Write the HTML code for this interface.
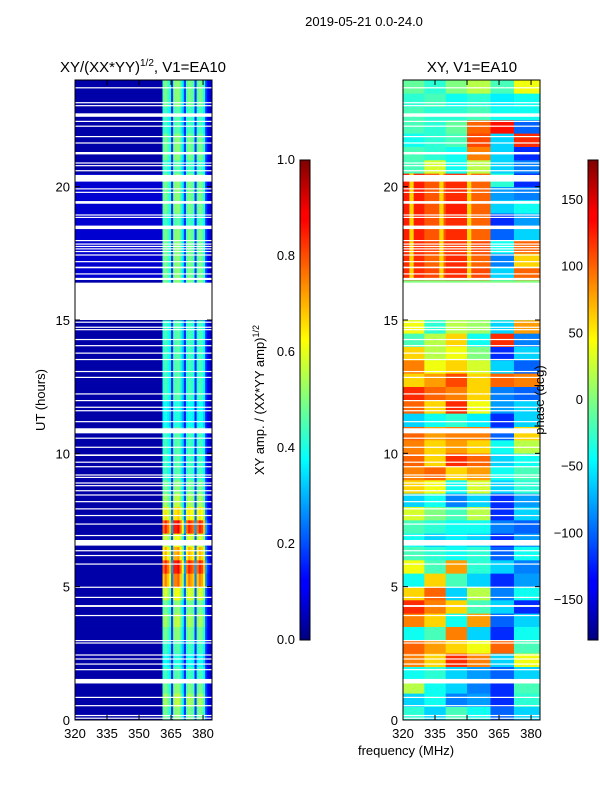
<!DOCTYPE html>
<html><head><meta charset="utf-8"><style>
html,body{margin:0;padding:0;background:#fff;}
svg{display:block;font-family:"Liberation Sans","DejaVu Sans",sans-serif;}
</style></head><body>
<svg id="fig" width="600" height="800" viewBox="0 0 600 800" xmlns="http://www.w3.org/2000/svg">
<defs>
<linearGradient id="jet" x1="0" y1="1" x2="0" y2="0">
<stop offset="0" stop-color="#00007f"/><stop offset="0.11" stop-color="#0000ff"/><stop offset="0.125" stop-color="#0000ff"/><stop offset="0.34" stop-color="#00dcff"/><stop offset="0.375" stop-color="#00ffff"/><stop offset="0.5" stop-color="#7fff7f"/><stop offset="0.625" stop-color="#ffff00"/><stop offset="0.66" stop-color="#ffdc00"/><stop offset="0.875" stop-color="#ff0000"/><stop offset="0.89" stop-color="#ff0000"/><stop offset="1" stop-color="#7f0000"/>
</linearGradient>
</defs>
<text x="364" y="26" font-size="13" text-anchor="middle">2019-05-21 0.0-24.0</text>
<text x="143" y="72" font-size="15" text-anchor="middle">XY/(XX*YY)<tspan font-size="10" dy="-6">1/2</tspan><tspan dy="6">, V1=EA10</tspan></text>
<text x="472" y="72" font-size="15" text-anchor="middle">XY, V1=EA10</text>
<g id="ampPanel"></g>
<g id="phasePanel"></g>
<g id="axes"></g>
<text transform="translate(45,400) rotate(-90)" font-size="13" text-anchor="middle">UT (hours)</text>
<text x="406" y="755" font-size="13" text-anchor="middle">frequency (MHz)</text>
<rect x="300" y="160" width="10" height="480" fill="url(#jet)" stroke="#000" stroke-width="1"/>
<rect x="588" y="160" width="10" height="480" fill="url(#jet)" stroke="#000" stroke-width="1"/>
<text transform="translate(264,400) rotate(-90)" font-size="13" text-anchor="middle">XY amp. / (XX*YY amp)<tspan font-size="9" dy="-5">1/2</tspan></text>
<text transform="translate(544,400) rotate(-90)" font-size="13" text-anchor="middle">phase (deg)</text>
</svg>
<script>
const ampRow = [0.5,0.55,0.5,0.45,0.4,0.45,0.5,0.55,0.5,0.6,0.75,0.85,0.7,0.6,0.85,0.65,0.55,0.5,0.45,0.45,0.45,0.45,0.4,0.4,0.45,0.45,0.45,0.45,0.45,0.45,0,0,0.5,0.5,0.5,0.5,0.5,0.45,0.5,0.5,0.5,0.45,0.5,0.5,0.45,0.45,0.5,0.5];
const bandFreqs = [361,362,363,364,365,366,367,368,369,370,371,372,373,374,375,376,377,378,379,380,381,382,383];
const bandWeight = [0.9,1,0.9,0.8,0.3,1,1,1.05,0.9,0.7,0.3,0.9,1,0.95,0.9,0.3,0.9,1,0.95,0.8,0.3,0.15,0.1];
const ampBase = 0.04;
const phaseGroups = [320,330,340,350,361,372,384];
const phaseGrid = [
[-30,-60,-20,-40,-100,-60],[-60,-40,-90,-80,-120,-30],[20,-40,-60,-90,-120,-20],[-40,-30,-60,-80,-100,-60],
[90,60,120,90,-60,40],[100,80,60,40,100,-20],[-40,-20,90,-60,-120,-40],[90,60,-40,80,-100,-60],
[120,90,60,-20,-60,-120],[60,100,-60,20,-90,-40],[-40,60,-20,-60,-120,-80],[40,-20,80,-30,-60,-90],
[-20,-30,-40,-30,-100,-40],[-40,-60,-50,-60,-120,-80],[-20,-30,-40,-40,-90,-100],[30,0,-20,20,-120,-60],
[-60,-40,-90,-60,-120,-80],[60,40,-40,30,-60,-30],[90,100,60,80,-40,-20],[100,60,120,100,-60,-40],
[90,60,80,60,-40,20],[100,80,90,90,-100,60],[-60,-40,-30,-50,-120,-60],[100,60,120,40,-80,-60],
[120,100,90,60,-90,-100],[60,80,110,60,100,90],[90,40,60,30,-60,-100],[60,20,40,0,-120,-60],
[-20,20,60,-40,120,-90],[40,-30,20,10,-60,80],[0,0,0,0,0,0],[0,0,0,0,0,0],
[0,0,0,0,0,0],[120,110,120,110,-60,100],[120,100,120,100,-90,60],[120,110,115,110,-40,100],
[125,105,120,100,-100,-60],[125,105,120,100,-120,-80],[125,105,125,100,-60,-40],[125,105,120,100,-80,-90],
[125,105,120,100,-30,-120],[-20,30,-40,20,-60,-90],[-20,-30,-40,90,-60,-120],[-40,-30,-20,110,-60,120],
[-20,-30,-10,100,130,-100],[-20,-30,-30,-20,-40,-40],[-30,-20,-40,-30,-50,-40],[-10,-30,0,20,-20,40]];
const stripeFreqs = [324,338,351];
const stripeRange = [16.5,20.5];
const stripePhase = 60;
const flags = [[23.73,23.69],[23.17,23.13],[23.06,23.02],[22.75,22.62],[22.47,22.43],[22.29,22.25],[21.9,21.86],[21.66,21.62],[21.3,21.21],[20.91,20.87],[20.81,20.77],[20.62,20.58],[20.44,20.19],[19.94,19.9],[19.81,19.77],[19.46,19.36],[18.96,18.92],[18.87,18.83],[18.54,18.41],[18.0,17.96],[17.87,17.83],[17.78,17.74],[17.69,17.65],[17.59,17.55],[17.46,17.42],[17.21,17.17],[17.0,16.94],[16.75,16.71],[16.58,16.5],[16.4,15.0],[14.94,14.9],[14.75,14.71],[14.66,14.62],[14.29,14.25],[14.06,14.02],[13.78,13.74],[13.54,13.5],[13.09,13.05],[12.87,12.83],[12.25,12.21],[12.0,11.96],[11.75,11.71],[11.62,11.58],[11.21,11.17],[10.94,10.75],[10.59,10.55],[10.25,10.21],[9.96,9.9],[9.69,9.65],[9.52,9.48],[9.21,9.17],[9.12,9.08],[8.91,8.87],[8.81,8.77],[8.62,8.58],[8.46,8.42],[8.21,8.17],[7.94,7.9],[7.69,7.65],[7.37,7.33],[6.94,6.9],[6.75,6.54],[6.37,6.33],[6.19,6.15],[5.87,5.83],[5.0,4.96],[4.62,4.58],[4.31,4.24],[3.94,3.9],[3.0,2.96],[2.91,2.87],[2.46,2.42],[2.31,2.27],[2.12,2.08],[1.91,1.87],[1.54,1.37],[0.87,0.83],[0.56,0.52],[0.19,0.15],[0.09,0.05]];
const xTicks = [320,335,350,365,380];
const yTicks = [0,5,10,15,20];
const ampCbTicks = ["0.0","0.2","0.4","0.6","0.8","1.0"];
const phaseCbTicks = [-150,-100,-50,0,50,100,150];

const NS="http://www.w3.org/2000/svg";
const F0=320,F1=384.2,T0=0,T1=24;
const panels=[{x:75,id:'ampPanel'},{x:403,id:'phasePanel'}];
const PW=137,PY=80,PH=640;
function xs(px,f){return px+(f-F0)/(F1-F0)*PW;}
function ys(t){return PY+PH-(t-T0)/(T1-T0)*PH;}
function jet(v){v=Math.max(0,Math.min(1,v));const c=a=>Math.round(255*Math.max(0,Math.min(1,1.5-Math.abs(4*v-a))));return `rgb(${c(3)},${c(2)},${c(1)})`;}
function rect(g,x,y,w,h,fill,name){const r=document.createElementNS(NS,'rect');r.setAttribute('x',x);r.setAttribute('y',y);r.setAttribute('width',w);r.setAttribute('height',h);r.setAttribute('fill',fill);


g.appendChild(r);return r;}
// amplitude heatmap
const ga=document.getElementById('ampPanel');
const px0=panels[0].x;
for(let i=0;i<ampRow.length;i++){
  const t0=i*0.5,t1=t0+0.5;const y=ys(t1),h=ys(t0)-ys(t1);
  rect(ga,px0,y,xs(px0,361)-px0,h+0.3,jet(ampBase+(i>=16&&i<30?0.0:0)+(i>=33&&i<41?0.04:0)),'amp-cell');
  for(let j=0;j<bandFreqs.length;j++){
    const v=ampBase+bandWeight[j]*(ampRow[i]-ampBase);
    rect(ga,xs(px0,bandFreqs[j]),y,xs(px0,bandFreqs[j]+1)-xs(px0,bandFreqs[j])+0.3,h+0.3,jet(v),'amp-cell');
  }
}
// phase heatmap
const gp=document.getElementById('phasePanel');
const px1=panels[1].x;
for(let i=0;i<phaseGrid.length;i++){
  const t0=i*0.5,t1=t0+0.5;const y=ys(t1),h=ys(t0)-ys(t1);
  for(let j=0;j<phaseGroups.length-1;j++){
    const xa=xs(px1,phaseGroups[j]),xb=Math.min(px1+PW,xs(px1,phaseGroups[j+1]));
    rect(gp,xa,y,xb-xa+0.3,h+0.3,jet((phaseGrid[i][j]+180)/360),'phase-cell');
  }
}
for(const f of stripeFreqs){
  const y=ys(stripeRange[1]),h=ys(stripeRange[0])-y;
  rect(gp,xs(px1,f-1),y,xs(px1,f+1)-xs(px1,f-1),h,jet((stripePhase+180)/360),'phase-stripe');
}
// flags
for(const p of panels){
  const g=document.getElementById(p.id);
  for(const fl of flags){
    const y=ys(fl[0]),h=Math.max(1.2,ys(fl[1])-ys(fl[0]));
    rect(g,p.x,y,PW,h,'#fff','flagged-row');
  }
}
// axes
const ax=document.getElementById('axes');
function line(x1,y1,x2,y2,name){const l=document.createElementNS(NS,'line');l.setAttribute('x1',x1);l.setAttribute('y1',y1);l.setAttribute('x2',x2);l.setAttribute('y2',y2);l.setAttribute('stroke','#000');l.setAttribute('stroke-width','1');


ax.appendChild(l);}
function text(x,y,s,anchor,name){const t=document.createElementNS(NS,'text');t.setAttribute('x',x);t.setAttribute('y',y);t.setAttribute('font-size','13');t.setAttribute('text-anchor',anchor);t.textContent=s;


ax.appendChild(t);}
for(const p of panels){
  const fr=document.createElementNS(NS,'rect');fr.setAttribute('x',p.x);fr.setAttribute('y',PY);fr.setAttribute('width',PW);fr.setAttribute('height',PH);fr.setAttribute('fill','none');fr.setAttribute('stroke','#000');
  
  
  ax.appendChild(fr);
  for(const f of xTicks){const x=xs(p.x,f);line(x,PY+PH,x,PY+PH-5,'x-tick');line(x,PY,x,PY+5,'x-tick');text(x,PY+PH+18,String(f),'middle','x-tick-label');}
  for(const t of yTicks){const y=ys(t);line(p.x,y,p.x+5,y,'y-tick');line(p.x+PW,y,p.x+PW-5,y,'y-tick');text(p.x-5,y+5,String(t),'end','y-tick-label');}
}
for(let k=0;k<ampCbTicks.length;k++){const y=640-parseFloat(ampCbTicks[k])*480;line(300,y,304,y,'amp-cb-tick');line(310,y,306,y,'amp-cb-tick');text(295,y+4,ampCbTicks[k],'end','amp-cb-tick-label');}
for(const d of phaseCbTicks){const y=400-d*480/360;line(588,y,592,y,'phase-cb-tick');line(598,y,594,y,'phase-cb-tick');text(583,y+4,d<0?'\u2212'+Math.abs(d):String(d),'end','phase-cb-tick-label');}
</script>
</body></html>
